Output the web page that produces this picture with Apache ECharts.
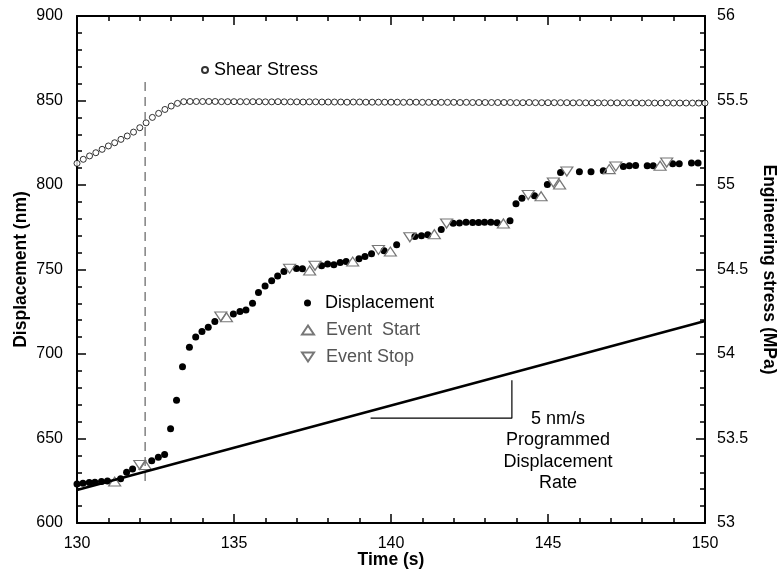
<!DOCTYPE html>
<html>
<head>
<meta charset="utf-8">
<script src="https://cdn.jsdelivr.net/npm/echarts@6/dist/echarts.min.js"></script>
<style>
  html, body { margin: 0; padding: 0; background: #fff; }
  #chart { width: 779px; height: 570px; }
</style>
</head>
<body>
<div id="chart"></div>
<script>
// shear stress (MPa, right axis), sampled every 0.2 s
const shearTime = [
  130.0, 130.2, 130.4, 130.6, 130.8, 131.0, 131.2, 131.4, 131.6, 131.8,
  132.0, 132.2, 132.4, 132.6, 132.8, 133.0, 133.2, 133.4, 133.6, 133.8,
  134.0, 134.2, 134.4, 134.6, 134.8, 135.0, 135.2, 135.4, 135.6, 135.8,
  136.0, 136.2, 136.4, 136.6, 136.8, 137.0, 137.2, 137.4, 137.6, 137.8,
  138.0, 138.2, 138.4, 138.6, 138.8, 139.0, 139.2, 139.4, 139.6, 139.8,
  140.0, 140.2, 140.4, 140.6, 140.8, 141.0, 141.2, 141.4, 141.6, 141.8,
  142.0, 142.2, 142.4, 142.6, 142.8, 143.0, 143.2, 143.4, 143.6, 143.8,
  144.0, 144.2, 144.4, 144.6, 144.8, 145.0, 145.2, 145.4, 145.6, 145.8,
  146.0, 146.2, 146.4, 146.6, 146.8, 147.0, 147.2, 147.4, 147.6, 147.8,
  148.0, 148.2, 148.4, 148.6, 148.8, 149.0, 149.2, 149.4, 149.6, 149.8,
  150.0
]
const shearStress = [
  55.128, 55.152, 55.172, 55.191, 55.211, 55.231, 55.250, 55.270, 55.290, 55.313,
  55.339, 55.368, 55.400, 55.424, 55.447, 55.467, 55.483, 55.493, 55.494, 55.494,
  55.494, 55.494, 55.494, 55.493, 55.493, 55.493, 55.493, 55.493, 55.493, 55.493,
  55.492, 55.492, 55.493, 55.492, 55.492, 55.492, 55.491, 55.492, 55.492, 55.491,
  55.491, 55.491, 55.491, 55.490, 55.491, 55.491, 55.490, 55.490, 55.490, 55.490,
  55.490, 55.490, 55.489, 55.490, 55.490, 55.489, 55.489, 55.489, 55.489, 55.489,
  55.489, 55.488, 55.489, 55.488, 55.488, 55.488, 55.488, 55.488, 55.488, 55.488,
  55.487, 55.487, 55.488, 55.487, 55.487, 55.487, 55.487, 55.487, 55.487, 55.486,
  55.487, 55.486, 55.486, 55.486, 55.486, 55.486, 55.486, 55.486, 55.486, 55.486,
  55.485, 55.486, 55.485, 55.485, 55.486, 55.485, 55.485, 55.485, 55.485, 55.485,
  55.485
]

// displacement (nm, left axis)
const dispTime = [
  130.0, 130.19, 130.39, 130.57, 130.78, 130.97, 131.39, 131.58, 131.77, 132.38,
  132.59, 132.79, 132.98, 133.17, 133.36, 133.58, 133.78, 133.98, 134.18, 134.39,
  134.98, 135.19, 135.38, 135.59, 135.78, 135.99, 136.2, 136.39, 136.59, 136.99,
  137.18, 137.79, 137.98, 138.18, 138.38, 138.57, 138.98, 139.17, 139.38, 139.78,
  140.18, 140.76, 140.97, 141.17, 141.6, 141.98, 142.18, 142.39, 142.6, 142.79,
  142.98, 143.18, 143.38, 143.79, 143.98, 144.17, 144.57, 144.98, 145.4, 146.0,
  146.37, 146.76, 147.4, 147.59, 147.79, 148.16, 148.35, 148.97, 149.18, 149.57,
  149.78
]
const dispValue = [
  623.1, 623.5, 623.9, 624.1, 624.5, 624.9, 626.2, 630.0, 632.0, 636.9,
  638.9, 640.5, 655.7, 672.7, 692.5, 704.0, 710.0, 713.3, 715.9, 719.2,
  723.7, 725.1, 726.1, 730.1, 736.4, 740.3, 743.3, 746.2, 748.8, 750.6,
  750.4, 752.2, 753.2, 752.8, 754.1, 754.7, 756.3, 757.7, 759.3, 761.1,
  764.6, 769.5, 769.9, 770.5, 773.7, 777.3, 777.5, 778.0, 777.8, 777.8,
  777.9, 777.9, 777.7, 778.9, 788.9, 792.2, 793.6, 800.3, 807.4, 807.8,
  807.8, 808.4, 811.0, 811.4, 811.6, 811.4, 811.4, 812.6, 812.6, 813.0,
  813.0
]

const startTime = [131.2, 132.17, 134.76, 137.41, 138.78, 139.98, 141.38, 143.58, 144.78, 145.37, 146.95, 148.57]
const startValue = [624.5, 634.3, 721.8, 749.4, 754.7, 760.6, 770.9, 777.2, 793.4, 800.3, 809.4, 811.4]

const stopTime = [132.0, 134.58, 136.77, 137.58, 139.6, 140.6, 141.77, 144.37, 145.17, 145.6, 147.16, 148.78]
const stopValue = [634.3, 722.2, 750.5, 752.2, 761.6, 769.1, 777.2, 794.1, 801.5, 808.0, 811.0, 813.3]

// programmed displacement rate (5 nm/s) and its slope guide
const rateTime = [130, 150]
const rateValue = [619.5, 719.5]
const guideTime = [139.35, 143.85, 143.85]
const guideValue = [662, 662, 684.5]

// dashed marker
const markerTime = [132.17, 132.17]
const markerValue = [861, 622.5]

const FONT = '"Liberation Sans", Arial, Helvetica, sans-serif'
const INK = '#000'

const pairs = (xs, ys) => xs.map((x, i) => [x, ys[i]])

const axisCommon = {
  nameMoveOverlap: false,
  axisLine: { onZero: false, lineStyle: { color: INK, width: 2 } },
  axisTick: { inside: true, length: 9, lineStyle: { color: INK, width: 1.5 } },
  minorTick: { show: true, splitNumber: 5, length: 5, lineStyle: { color: INK, width: 1.5 } },
  splitLine: { show: false },
  minorSplitLine: { show: false }
}

const nameStyle = { fontFamily: FONT, fontSize: 17.5, fontWeight: 'bold', color: INK }
const labelStyle = { fontFamily: FONT, fontSize: 16, color: INK }

const legendBase = {
  orient: 'vertical',
  padding: 0,
  itemGap: 0,
  selectedMode: false,
  symbolKeepAspect: false
}

const chart = echarts.init(document.getElementById('chart'))

chart.setOption({
  animation: false,
  backgroundColor: '#fff',
  grid: { left: 77, right: 74, top: 16, bottom: 47, outerBoundsMode: 'none', containLabel: false },
  xAxis: [
    {
      type: 'value',
      min: 130,
      max: 150,
      interval: 5,
      position: 'bottom',
      ...axisCommon,
      axisLabel: { ...labelStyle, margin: 13 },
      name: 'Time (s)',
      nameLocation: 'middle',
      nameGap: 28,
      nameTextStyle: nameStyle
    },
    {
      type: 'value',
      min: 130,
      max: 150,
      interval: 5,
      position: 'top',
      ...axisCommon,
      axisLabel: { show: false }
    }
  ],
  yAxis: [
    {
      type: 'value',
      min: 600,
      max: 900,
      interval: 50,
      position: 'left',
      ...axisCommon,
      axisLabel: { ...labelStyle, margin: 14 },
      name: 'Displacement (nm)',
      nameLocation: 'middle',
      nameGap: 47,
      nameTextStyle: nameStyle
    },
    {
      type: 'value',
      min: 53,
      max: 56,
      interval: 0.5,
      position: 'right',
      ...axisCommon,
      axisLabel: { ...labelStyle, margin: 12 },
      name: 'Engineering stress (MPa)',
      nameLocation: 'middle',
      nameRotate: -90,
      nameGap: 55,
      nameTextStyle: nameStyle
    }
  ],
  legend: [
    {
      ...legendBase,
      data: ['Shear Stress'],
      left: 201, top: 61, itemWidth: 6, itemHeight: 6,
      textStyle: { fontFamily: FONT, fontSize: 18, color: INK, padding: [0, 0, 0, 1] }
    },
    {
      ...legendBase,
      data: ['Displacement'],
      left: 304, top: 294, itemWidth: 7, itemHeight: 7,
      textStyle: { fontFamily: FONT, fontSize: 18, color: INK, padding: [0, 0, 0, 9] }
    },
    {
      ...legendBase,
      data: ['Event  Start'],
      left: 301, top: 321, itemWidth: 12, itemHeight: 9,
      textStyle: { fontFamily: FONT, fontSize: 18, color: '#555', padding: [0, 0, 0, 7] }
    },
    {
      ...legendBase,
      data: ['Event Stop'],
      left: 301, top: 348, itemWidth: 12, itemHeight: 9,
      textStyle: { fontFamily: FONT, fontSize: 18, color: '#555', padding: [0, 0, 0, 7] }
    }
  ],
  graphic: [
    {
      type: 'text',
      x: 558,
      y: 408,
      style: {
        text: '5 nm/s\nProgrammed\nDisplacement\nRate',
        font: '18px ' + FONT,
        fill: INK,
        textAlign: 'center',
        textVerticalAlign: 'top',
        lineHeight: 21.5
      }
    }
  ],
  series: [
    {
      name: 'marker',
      type: 'line',
      data: pairs(markerTime, markerValue),
      symbol: 'none',
      silent: true,
      lineStyle: { color: '#777', width: 1.4, type: [9, 6] }
    },
    {
      name: 'rate',
      type: 'line',
      data: pairs(rateTime, rateValue),
      symbol: 'none',
      silent: true,
      lineStyle: { color: INK, width: 2.5 }
    },
    {
      name: 'guide',
      type: 'line',
      data: pairs(guideTime, guideValue),
      symbol: 'none',
      silent: true,
      lineStyle: { color: INK, width: 1.2 }
    },
    {
      name: 'Shear Stress',
      type: 'scatter',
      yAxisIndex: 1,
      data: pairs(shearTime, shearStress),
      symbol: 'circle',
      symbolSize: 6,
      itemStyle: { color: '#fff', borderColor: INK, borderWidth: 1 }
    },
    {
      name: 'Displacement',
      type: 'scatter',
      data: pairs(dispTime, dispValue),
      symbol: 'circle',
      symbolSize: 7,
      itemStyle: { color: INK, opacity: 1 }
    },
    {
      name: 'Event  Start',
      type: 'scatter',
      data: pairs(startTime, startValue),
      symbol: 'path://M0,9 L6,0 L12,9 Z',
      symbolSize: [12, 9],
      itemStyle: { color: 'rgba(255,255,255,0)', borderColor: '#777', borderWidth: 1.2, opacity: 1 }
    },
    {
      name: 'Event Stop',
      type: 'scatter',
      data: pairs(stopTime, stopValue),
      symbol: 'path://M0,0 L12,0 L6,9 Z',
      symbolSize: [12, 9],
      itemStyle: { color: 'rgba(255,255,255,0)', borderColor: '#777', borderWidth: 1.2, opacity: 1 }
    }
  ]
})
</script>
</body>
</html>
